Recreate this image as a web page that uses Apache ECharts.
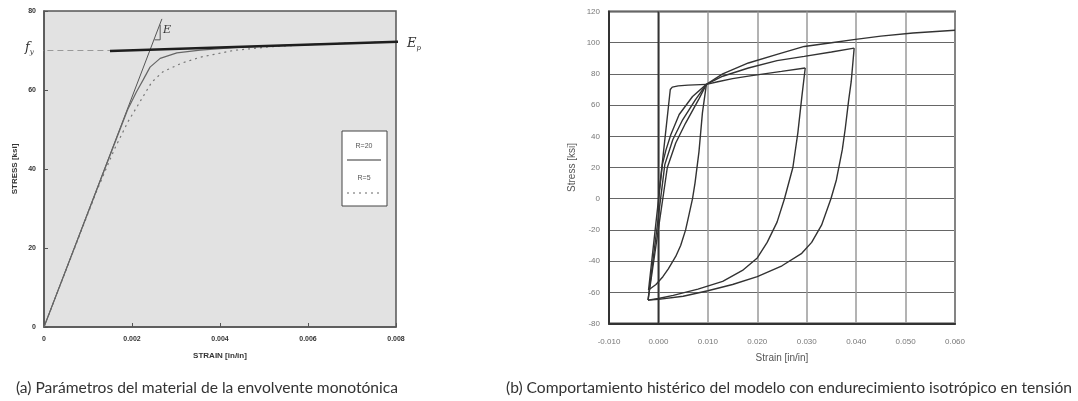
<!DOCTYPE html>
<html>
<head>
<meta charset="utf-8">
<script src="https://cdn.jsdelivr.net/npm/echarts@6/dist/echarts.min.js"></script>
<style>
  html, body { margin: 0; padding: 0; background: #fff; }
  #chart { width: 1078px; height: 401px; }
</style>
</head>
<body>
<div id="chart"></div>
<script>
// (a) monotonic envelope: strain [in/in] vs stress [ksi]
const elasticLine = [[0, 0], [0.00268, 78]];
const hardeningLine = [[0.0015, 69.9], [0.0082, 72.3]];
const yieldGuide = [[-0.00015, 70], [0.0015, 70]];
const slopeMark = [[0.00251, 72.7], [0.00264, 72.7], [0.00264, 76.5]];
const curveR20 = [[0, 0], [0.0019, 55], [0.0021, 59.5], [0.00225, 62.5], [0.00241, 65.8], [0.00264, 68],
  [0.00302, 69.4], [0.00355, 70.1], [0.0043, 70.7], [0.005, 71.1], [0.006, 71.5], [0.007, 71.9], [0.008, 72.2]];
const curveR5 = [[0, 0], [0.0012, 34.5], [0.0016, 45], [0.00191, 52], [0.00218, 57], [0.00245, 62], [0.0027, 64.6],
  [0.00313, 66.8], [0.00355, 68.3], [0.0043, 70], [0.0051, 70.9], [0.006, 71.5], [0.007, 71.9], [0.008, 72.2]];

// (b) cyclic response with isotropic hardening
const firstLoad = [[0, 0], [0.0024, 70], [0.0028, 71.5], [0.004, 72.3], [0.006, 72.8], [0.0097, 73.3]];
const unload1 = [[0.0097, 73.3], [0.0089, 55], [0.0082, 30], [0.0074, 10], [0.0069, 0], [0.0062, -10], [0.0055, -20],
  [0.0045, -30], [0.0035, -37], [0.002, -45], [0.0009, -50], [-0.0005, -55], [-0.002, -58.5]];
const reload1 = [[-0.002, -58.5], [0.0008, 22], [0.0015, 31], [0.0025, 41], [0.0042, 54], [0.0069, 65.5], [0.0097, 73.3],
  [0.012, 75], [0.015, 77], [0.0182, 78.6], [0.0249, 81.6], [0.0297, 83.8]];
const unload2 = [[0.0297, 83.8], [0.029, 65], [0.0282, 42], [0.0272, 20], [0.0255, 0], [0.024, -15], [0.022, -28],
  [0.02, -38], [0.017, -46], [0.013, -53], [0.008, -58], [0.003, -62], [0, -64], [-0.0021, -65]];
const reload2 = [[-0.0021, -65], [0.0013, 22], [0.0029, 37.8], [0.0049, 50.6], [0.0075, 63.5], [0.0097, 73.3],
  [0.013, 78.5], [0.0182, 83.8], [0.024, 88.5], [0.0295, 91.2], [0.035, 94], [0.0396, 96.5]];
const unload3 = [[0.0396, 96.5], [0.039, 75], [0.0385, 63.5], [0.0378, 45], [0.0372, 31.4], [0.036, 12], [0.0349, 0],
  [0.033, -17], [0.031, -28], [0.029, -35], [0.025, -43], [0.02, -50], [0.015, -55], [0.01, -59], [0.005, -62.5],
  [0, -64.5], [-0.0021, -65]];
const reload3 = [[-0.0021, -65], [0.0018, 20], [0.0035, 35.7], [0.0055, 48.5], [0.0082, 64], [0.0097, 73.3],
  [0.013, 80], [0.0182, 87], [0.024, 92.5], [0.0295, 97.6], [0.035, 100], [0.0395, 102], [0.045, 104.2],
  [0.0515, 106.2], [0.06, 108]];
const zeroStrainLine = [[0, -80], [0, 120]];

const chart = echarts.init(document.getElementById('chart'), null, { renderer: 'canvas' });

function line(data, idx, color, width, type, extra) {
  return Object.assign({
    type: 'line', data: data, xAxisIndex: idx, yAxisIndex: idx,
    showSymbol: false, symbol: 'none', silent: true,
    lineStyle: { color: color, width: width, type: type || 'solid' }
  }, extra || {});
}

const cycleColor = '#333';

chart.setOption({
  animation: false,
  grid: [
    { left: 44, top: 11, width: 352, height: 316, show: true, backgroundColor: '#e2e2e2', borderColor: '#555', borderWidth: 1.5 },
    { left: 609, top: 11.5, width: 346, height: 312, show: true, backgroundColor: '#fff', borderColor: '#444', borderWidth: 2 }
  ],
  xAxis: [
    {
      type: 'value', gridIndex: 0, min: 0, max: 0.008, interval: 0.002,
      axisLine: { lineStyle: { color: '#555', width: 1.5 } },
      axisTick: { inside: true, length: 4, lineStyle: { color: '#555' } },
      splitLine: { show: false },
      axisLabel: { fontSize: 7, color: '#333', fontWeight: 'bold', margin: 9, fontFamily: 'Liberation Sans',
        formatter: v => v === 0 ? '0' : v.toFixed(3) },
      name: 'STRAIN [in/in]', nameLocation: 'middle', nameGap: 25,
      nameTextStyle: { fontSize: 8, fontWeight: 'bold', color: '#333', fontFamily: 'Liberation Sans' }
    },
    {
      type: 'value', gridIndex: 1, min: -0.01, max: 0.06, interval: 0.01,
      axisLine: { onZero: false, lineStyle: { color: '#333', width: 2 } },
      axisTick: { show: false },
      splitLine: { show: true, lineStyle: { color: '#9a9a9a', width: 1.5 } },
      axisLabel: { fontSize: 8, color: '#777', margin: 14, fontFamily: 'Liberation Sans',
        formatter: v => v.toFixed(3) },
      name: 'Strain [in/in]', nameLocation: 'middle', nameGap: 30,
      nameTextStyle: { fontSize: 10, color: '#555', fontFamily: 'Liberation Sans' }
    }
  ],
  yAxis: [
    {
      type: 'value', gridIndex: 0, min: 0, max: 80, interval: 20,
      axisLine: { lineStyle: { color: '#555', width: 1.5 } },
      axisTick: { inside: true, length: 4, lineStyle: { color: '#555' } },
      splitLine: { show: false },
      axisLabel: { fontSize: 7, color: '#333', fontWeight: 'bold', margin: 8, fontFamily: 'Liberation Sans' },
      name: 'STRESS [ksi]', nameLocation: 'middle', nameGap: 25,
      nameTextStyle: { fontSize: 8, fontWeight: 'bold', color: '#333', fontFamily: 'Liberation Sans' }
    },
    {
      type: 'value', gridIndex: 1, min: -80, max: 120, interval: 20,
      axisLine: { onZero: false, lineStyle: { color: '#333', width: 2 } },
      axisTick: { show: false },
      splitLine: { show: true, lineStyle: { color: '#666', width: 1.2 } },
      axisLabel: { fontSize: 8, color: '#777', margin: 9, fontFamily: 'Liberation Sans' },
      name: 'Stress [ksi]', nameLocation: 'middle', nameGap: 32,
      nameTextStyle: { fontSize: 10, color: '#555', fontFamily: 'Liberation Sans' }
    }
  ],
  series: [
    line(yieldGuide, 0, '#9a9a9a', 1, [6, 4], { clip: false }),
    line(elasticLine, 0, '#555', 1),
    line(slopeMark, 0, '#555', 1),
    line(curveR5, 0, '#777', 1.2, [2, 4]),
    line(curveR20, 0, '#666', 1.2),
    line(hardeningLine, 0, '#1e1e1e', 2.5, 'solid', { clip: false }),

    line(zeroStrainLine, 1, '#333', 1.8),
    line(firstLoad, 1, cycleColor, 1.4),
    line(unload1, 1, cycleColor, 1.4),
    line(reload1, 1, cycleColor, 1.4),
    line(unload2, 1, cycleColor, 1.4),
    line(reload2, 1, cycleColor, 1.4),
    line(unload3, 1, cycleColor, 1.4),
    line(reload3, 1, cycleColor, 1.4)
  ],
  graphic: [
    { type: 'text', x: 25, y: 48, z: 100, style: {
      text: '{f|f}{s|y}', verticalAlign: 'middle',
      rich: { f: { fontSize: 13, fontStyle: 'italic', fontFamily: 'DejaVu Serif', fill: '#333' },
              s: { fontSize: 7, fontStyle: 'italic', fontFamily: 'DejaVu Serif', fill: '#333', padding: [8, 0, 0, 0] } } } },
    { type: 'text', x: 407, y: 44, z: 100, style: {
      text: '{f|E}{s|p}', verticalAlign: 'middle',
      rich: { f: { fontSize: 13, fontStyle: 'italic', fontFamily: 'DejaVu Serif', fill: '#333' },
              s: { fontSize: 7, fontStyle: 'italic', fontFamily: 'DejaVu Serif', fill: '#333', padding: [8, 0, 0, 0] } } } },
    { type: 'text', x: 163, y: 30, z: 100, style: {
      text: 'E', verticalAlign: 'middle', fontSize: 11, fontStyle: 'italic', fontFamily: 'DejaVu Serif', fill: '#333' } },

    { type: 'rect', z: 100, shape: { x: 342, y: 131, width: 45, height: 75 },
      style: { fill: '#fff', stroke: '#444', lineWidth: 1 } },
    { type: 'text', x: 364, y: 146, z: 101, style: { text: 'R=20', align: 'center', verticalAlign: 'middle',
      fontSize: 7, fontFamily: 'Liberation Sans', fill: '#555' } },
    { type: 'line', z: 101, shape: { x1: 347, y1: 160, x2: 381, y2: 160 }, style: { stroke: '#333', lineWidth: 1.2 } },
    { type: 'text', x: 364, y: 178, z: 101, style: { text: 'R=5', align: 'center', verticalAlign: 'middle',
      fontSize: 7, fontFamily: 'Liberation Sans', fill: '#555' } },
    { type: 'line', z: 101, shape: { x1: 347, y1: 193, x2: 381, y2: 193 },
      style: { stroke: '#666', lineWidth: 1.2, lineDash: [2, 4] } },

    { type: 'text', x: 16, y: 388, z: 100, style: {
      text: '(a) Parámetros del material de la envolvente monotónica', verticalAlign: 'middle',
      fontSize: 15.6, fontFamily: 'Lato', fill: '#333' } },
    { type: 'text', x: 506, y: 388, z: 100, style: {
      text: '(b) Comportamiento histérico del modelo con endurecimiento isotrópico en tensión', verticalAlign: 'middle',
      fontSize: 15.6, fontFamily: 'Lato', fill: '#333' } }
  ]
});

window.addEventListener('resize', () => chart.resize());
</script>
</body>
</html>
